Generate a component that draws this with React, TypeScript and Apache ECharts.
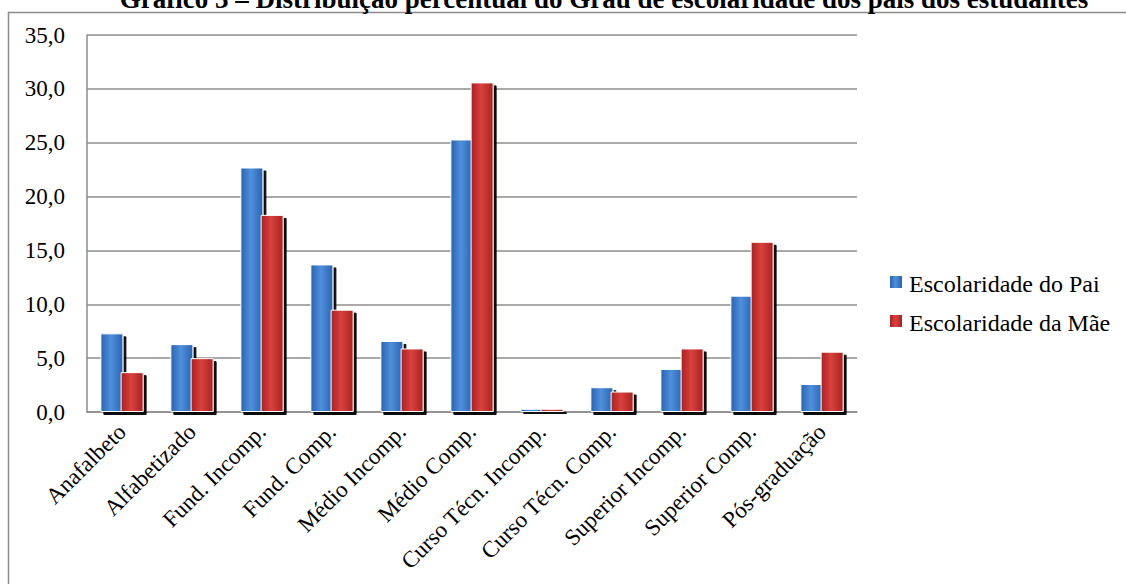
import React, { useEffect, useRef } from "react";
import * as echarts from "echarts";

const categories = [
  "Anafalbeto",
  "Alfabetizado",
  "Fund. Incomp.",
  "Fund. Comp.",
  "Médio Incomp.",
  "Médio Comp.",
  "Curso Técn. Incomp.",
  "Curso Técn. Comp.",
  "Superior Incomp.",
  "Superior Comp.",
  "Pós-graduação",
];
const pai = [7.3, 6.3, 22.7, 13.7, 6.6, 25.3, 0.3, 2.3, 4.0, 10.8, 2.6];
const mae = [3.7, 5.0, 18.3, 9.5, 5.9, 30.6, 0.3, 1.9, 5.9, 15.8, 5.6];
const seriesNames = ["Escolaridade do Pai", "Escolaridade da Mãe"];
const yTicks = { min: 0, max: 35, interval: 5 };
const title = "Gráfico 3 – Distribuição percentual do Grau de escolaridade dos pais dos estudantes";

const FONT = "Liberation Serif";
const BLUE = ["#2c62ad", "#4f90dd"];
const RED = ["#a82222", "#d9413d"];

function grad(edge: string, mid: string) {
  return new echarts.graphic.LinearGradient(0, 0, 1, 0, [
    { offset: 0, color: edge },
    { offset: 0.45, color: mid },
    { offset: 1, color: edge },
  ]);
}

export default function App() {
  const ref = useRef<HTMLDivElement>(null);
  useEffect(() => {
    if (!ref.current) return;
    const chart = echarts.init(ref.current, undefined, { renderer: "svg" });
    const barStyle = (c: string[]) => ({
      color: grad(c[0], c[1]),
      borderColor: "#ffffff",
      borderWidth: 1,
      shadowColor: "rgba(0,0,0,0.95)",
      shadowOffsetX: 3,
      shadowOffsetY: 3,
      shadowBlur: 0,
    });
    const legendColors = [BLUE, RED];
    const legendItems = seriesNames.map((name, i) => ({
      type: "group",
      x: 890,
      y: 284 + i * 39,
      children: [
        {
          type: "rect",
          shape: { x: 0, y: -8, width: 12, height: 12 },
          style: { fill: grad(legendColors[i][0], legendColors[i][1]) },
        },
        {
          type: "text",
          x: 19,
          y: 0,
          style: {
            text: name,
            fontFamily: FONT,
            fontSize: 24,
            fill: "#000",
            align: "left",
            verticalAlign: "middle",
          },
        },
      ],
    }));
    chart.setOption({
      animation: false,
      backgroundColor: "#ffffff",
      textStyle: { fontFamily: FONT },
      grid: { left: 87, top: 35, right: 269, bottom: 172, containLabel: false },
      graphic: [
        {
          type: "rect",
          shape: { x: 8.5, y: 12.5, width: 1130, height: 590 },
          style: { fill: "none", stroke: "#8c8c8c", lineWidth: 1.5 },
          silent: true,
          z: -10,
        },
        {
          type: "text",
          x: 604,
          y: 12,
          style: {
            text: title,
            fontFamily: FONT,
            fontWeight: "bold",
            fontSize: 27,
            fill: "#000",
            align: "center",
            verticalAlign: "bottom",
          },
        },
        ...legendItems,
      ],
      legend: { show: false, data: seriesNames },
      xAxis: {
        type: "category",
        data: categories,
        axisLine: { lineStyle: { color: "#8c8c8c", width: 1.5 } },
        axisTick: { show: false },
        axisLabel: {
          rotate: 45,
          interval: 0,
          margin: 16,
          fontFamily: FONT,
          fontSize: 23,
          color: "#000",
        },
      },
      yAxis: {
        type: "value",
        min: yTicks.min,
        max: yTicks.max,
        interval: yTicks.interval,
        axisLine: { show: true, lineStyle: { color: "#8c8c8c", width: 1.5 } },
        axisTick: { show: false },
        splitLine: { lineStyle: { color: "#8c8c8c", width: 1.5 } },
        axisLabel: {
          margin: 22,
          fontFamily: FONT,
          fontSize: 23,
          color: "#000",
          formatter: (v: number) => v.toFixed(1).replace(".", ","),
        },
      },
      series: [
        {
          name: seriesNames[0],
          type: "bar",
          data: pai,
          barWidth: 23,
          barGap: "-12%",
          itemStyle: barStyle(BLUE),
        },
        {
          name: seriesNames[1],
          type: "bar",
          data: mae,
          barWidth: 23,
          itemStyle: barStyle(RED),
        },
      ],
    });
    return () => chart.dispose();
  }, []);
  return (
    <div
      ref={ref}
      style={{ position: "fixed", left: 0, top: 0, width: 1126, height: 584 }}
    />
  );
}
